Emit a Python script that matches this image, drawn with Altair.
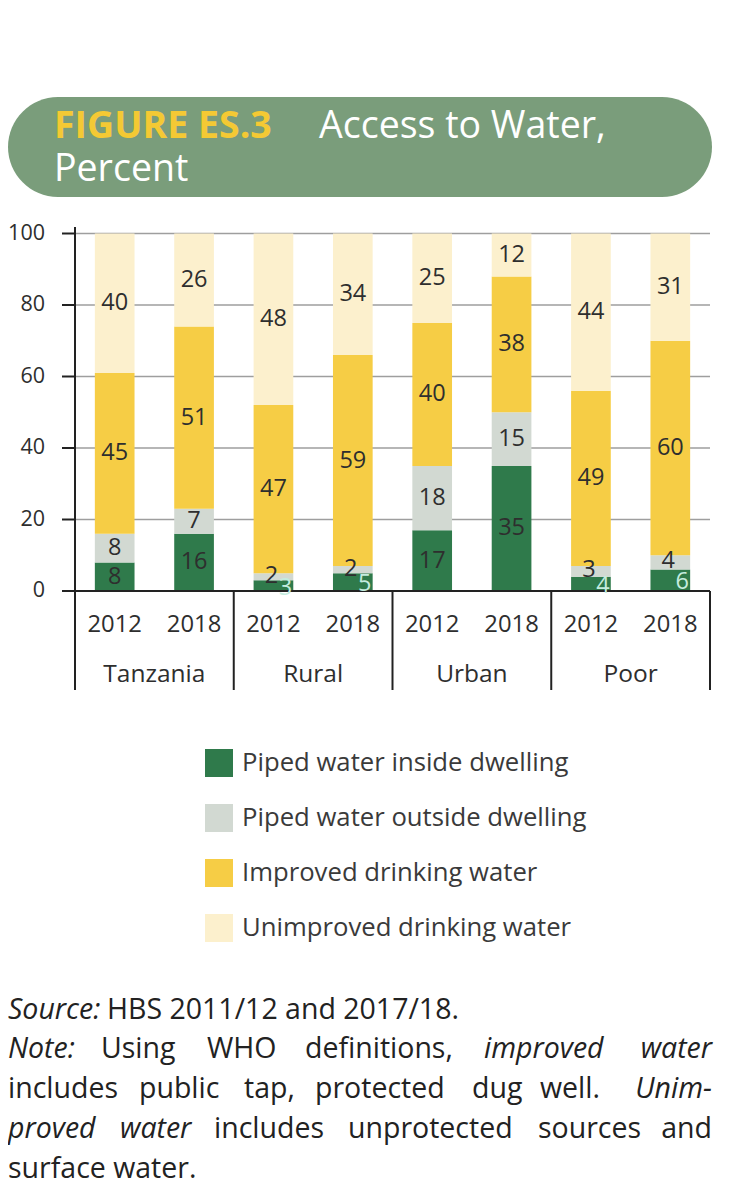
import altair as alt
import pandas as pd

# ---------------- data ----------------
regions = ["Tanzania", "Rural", "Urban", "Poor"]
years = ["2012", "2018"]
series = [
    "Piped water inside dwelling",
    "Piped water outside dwelling",
    "Improved drinking water",
    "Unimproved drinking water",
]
piped_inside = [8, 16, 3, 5, 17, 35, 4, 6]
piped_outside = [8, 7, 2, 2, 18, 15, 3, 4]
improved = [45, 51, 47, 59, 40, 38, 49, 60]
unimproved = [40, 26, 48, 34, 25, 12, 44, 31]
y_ticks = [0, 20, 40, 60, 80, 100]

title_code = "FIGURE ES.3"
title_line1 = "Access to Water,"
title_line2 = "Percent"

source_label = "Source:"
source_text = "HBS 2011/12 and 2017/18."
# justified note lines: (word, italic)
note_lines = [
    [("Note:", True), ("Using", False), ("WHO", False), ("definitions,", False), ("improved", True), ("water", True)],
    [("includes", False), ("public", False), ("tap,", False), ("protected", False), ("dug", False), ("well.", False), ("Unim-", True)],
    [("proved", True), ("water", True), ("includes", False), ("unprotected", False), ("sources", False), ("and", False)],
]
note_last = "surface water."

# ---------------- layout / style ----------------
colors = ["#2f7a4b", "#d2d9d2", "#f6cd45", "#fcf0cd"]
W, H = 717, 1184
FONT = "Open Sans"
TXT = "#2e2e2e"
note_word_x = [
    [0, 93, 199, 297, 476, 615],
    [0, 131, 236, 307, 464, 532, 636],
    [0, 112, 206, 340, 530, 657],
]
note_y = [1011, 1050, 1090, 1130, 1170]
NOTE_SIZE = 28.5
TITLE_SIZE = 37.5

# ---------------- tables ----------------
keys, rows = [], []
for gi, r in enumerate(regions):
    for yi, yr in enumerate(years):
        i = gi * 2 + yi
        k = f"{r} {yr}"
        keys.append(k)
        for si, (s, arr) in enumerate(zip(series, [piped_inside, piped_outside, improved, unimproved])):
            rows.append({"key": k, "region": r, "year": yr, "series": s, "idx": si, "value": arr[i]})
df = pd.DataFrame(rows)
labels_df = pd.DataFrame({"key": keys, "year": [k.split(" ")[1] for k in keys]})
regions_df = pd.DataFrame({"region": regions})
ticks_df = pd.DataFrame({"tick": y_ticks})

xscale = alt.Scale(domain=keys, range=[67, 702], paddingInner=0.5, paddingOuter=0.25)
gscale = alt.Scale(domain=regions, range=[67, 702], paddingInner=0, paddingOuter=0)
yscale = alt.Scale(domain=[0, 100], range=[583, 225.5], clamp=True, nice=False, zero=False)
X = alt.X("key:N", scale=xscale, axis=None, sort=keys)

stacked = (
    alt.Chart(df)
    .transform_stack(stack="value", groupby=["key"], sort=[alt.SortField("idx", order="ascending")], as_=["y0", "y1"])
    .transform_calculate(y1c="min(datum.y1, 100)", mid="(datum.y0 + min(datum.y1, 100)) / 2")
)

grid = alt.Chart(ticks_df).transform_filter("datum.tick > 0").mark_rule(color="#9e9e9e", strokeWidth=1.5).encode(
    y=alt.Y("tick:Q", scale=yscale, axis=None), x=alt.value(67), x2=alt.value(702)
)

bars = stacked.mark_bar().encode(
    x=X,
    y=alt.Y("y0:Q", scale=yscale, axis=None),
    y2="y1c:Q",
    color=alt.Color(
        "series:N",
        scale=alt.Scale(domain=series, range=colors),
        legend=alt.Legend(
            title=None, orient="none", legendX=197, legendY=741, direction="vertical",
            symbolType="square", symbolSize=784, symbolStrokeWidth=0, symbolOpacity=1,
            labelFont=FONT, labelFontSize=25.7, labelColor="#3a3a3a", labelOffset=9,
            rowPadding=27, padding=0, labelLimit=500,
        ),
    ),
    order=alt.Order("idx:Q"),
)

baseline = alt.Chart(ticks_df).transform_filter("datum.tick == 0").mark_rule(color="#222", strokeWidth=2).encode(
    y=alt.Y("tick:Q", scale=yscale, axis=None), x=alt.value(54), x2=alt.value(702)
)
ytick_marks = alt.Chart(ticks_df).mark_rule(color="#222", strokeWidth=2).encode(
    y=alt.Y("tick:Q", scale=yscale, axis=None), x=alt.value(54), x2=alt.value(67)
)
yaxis_line = alt.Chart(ticks_df).transform_filter("datum.tick == 0").mark_rule(color="#222", strokeWidth=2).encode(
    x=alt.value(67), y=alt.value(219), y2=alt.value(682)
)
ytick_labels = alt.Chart(ticks_df).mark_text(align="right", baseline="middle", font=FONT, fontSize=21.5, color=TXT).encode(
    y=alt.Y("tick:Q", scale=yscale, axis=None), x=alt.value(37), text="tick:Q"
)

small_green = "datum.idx == 0 && datum.value < 8"
small_grey = "datum.idx == 1 && datum.value < 5"
normal_labels = stacked.transform_filter(f"!({small_green}) && !({small_grey})").mark_text(
    baseline="middle", font=FONT, fontSize=23.5, color=TXT
).encode(x=X, y=alt.Y("mid:Q", scale=yscale, axis=None), text="value:Q")
grey_small_labels = stacked.transform_filter(small_grey).mark_text(
    baseline="middle", font=FONT, fontSize=23.5, color=TXT, dx=-2, dy=-1
).encode(x=X, y=alt.Y("mid:Q", scale=yscale, axis=None), text="value:Q")
small_labels = stacked.transform_filter(small_green).mark_text(
    baseline="middle", font=FONT, fontSize=23.5, color="#c4ecdf", dx=12, dy=2
).encode(x=X, y=alt.Y("mid:Q", scale=yscale, axis=None), text="value:Q")

year_labels = alt.Chart(labels_df).mark_text(baseline="middle", font=FONT, fontSize=23.8, color=TXT).encode(
    x=X, y=alt.value(617), text="year:N"
)
region_labels = alt.Chart(regions_df).mark_text(baseline="middle", font=FONT, fontSize=24.5, color=TXT).encode(
    x=alt.X("region:N", scale=gscale, axis=None, sort=regions, bandPosition=0.5), y=alt.value(667), text="region:N"
)
separators = alt.Chart(regions_df).mark_rule(color="#222", strokeWidth=2).encode(
    x=alt.X("region:N", scale=gscale, axis=None, sort=regions, bandPosition=0), y=alt.value(583), y2=alt.value(682)
)
sep_end = alt.Chart(regions_df).transform_filter(f"datum.region == '{regions[-1]}'").mark_rule(color="#222", strokeWidth=2).encode(
    x=alt.X("region:N", scale=gscale, axis=None, sort=regions, bandPosition=1), y=alt.value(583), y2=alt.value(682)
)

# title banner
one = pd.DataFrame({"a": [0]})
banner = alt.Chart(one).mark_rect(color="#7a9d7b", cornerRadius=50).encode(
    x=alt.value(0), x2=alt.value(704), y=alt.value(89), y2=alt.value(189)
)
t_code = alt.Chart(one).mark_text(align="left", baseline="alphabetic", font=FONT, fontSize=TITLE_SIZE, fontWeight="bold", color="#f4c934").encode(
    x=alt.value(46), y=alt.value(130), text=alt.value(title_code)
)
t_l1 = alt.Chart(one).mark_text(align="left", baseline="alphabetic", font=FONT, fontSize=TITLE_SIZE, color="#ffffff").encode(
    x=alt.value(311), y=alt.value(130), text=alt.value(title_line1)
)
t_l2 = alt.Chart(one).mark_text(align="left", baseline="alphabetic", font=FONT, fontSize=TITLE_SIZE, color="#ffffff").encode(
    x=alt.value(46), y=alt.value(173), text=alt.value(title_line2)
)

# notes
note_rows = []
for li, line in enumerate(note_lines):
    for wi, (w, it) in enumerate(line):
        last = wi == len(line) - 1
        note_rows.append({"w": w, "it": it, "x": 704 if last else note_word_x[li][wi], "y": note_y[li + 1],
                          "al": "right" if last else "left"})
notes_df = pd.DataFrame(note_rows)
note_layers = []
for it in [True, False]:
    for al in ["left", "right"]:
        note_layers.append(
            alt.Chart(notes_df).transform_filter(f"datum.it == {str(it).lower()} && datum.al == '{al}'")
            .mark_text(align=al, baseline="alphabetic", font=FONT, fontSize=NOTE_SIZE, color="#222",
                       fontStyle="italic" if it else "normal")
            .encode(x=alt.X("x:Q", scale=None), y=alt.Y("y:Q", scale=None), text="w:N")
        )
src_it = alt.Chart(one).mark_text(align="left", baseline="alphabetic", font=FONT, fontSize=NOTE_SIZE, fontStyle="italic", color="#222").encode(
    x=alt.value(0), y=alt.value(note_y[0]), text=alt.value(source_label)
)
src_tx = alt.Chart(one).mark_text(align="left", baseline="alphabetic", font=FONT, fontSize=NOTE_SIZE, color="#222").encode(
    x=alt.value(99), y=alt.value(note_y[0]), text=alt.value(source_text)
)
last_line = alt.Chart(one).mark_text(align="left", baseline="alphabetic", font=FONT, fontSize=NOTE_SIZE, color="#222").encode(
    x=alt.value(0), y=alt.value(note_y[4]), text=alt.value(note_last)
)

chart = alt.layer(
    grid, bars, baseline, ytick_marks, yaxis_line, ytick_labels, normal_labels, grey_small_labels, small_labels,
    year_labels, region_labels, separators, sep_end,
    banner, t_code, t_l1, t_l2, src_it, src_tx, last_line, *note_layers,
).resolve_scale(x="independent").properties(
    width=W, height=H, padding=0, autosize="none", background="#ffffff"
).configure_view(stroke=None)

chart.save("out.html", embed_options={"renderer": "svg", "actions": False})
